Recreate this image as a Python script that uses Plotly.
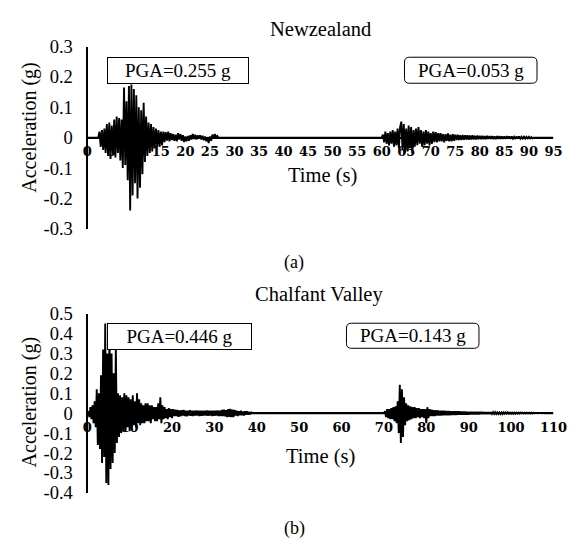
import plotly.graph_objects as go

# ---------------- data ----------------
# Record sampled every DT seconds; each inner line = one second (4 samples)
DT = 0.25

NZ_EVENT1_START = 2.0
NZ_EVENT1 = [
    0, 0, 0.02, -0.03,
    0.025, -0.04, 0.03, -0.05,
    0.045, -0.06, 0.05, -0.07,
    0.04, -0.055, 0.06, -0.065,
    0.07, -0.05, 0.065, -0.075,
    0.06, -0.1, 0.165, -0.09,
    0.12, -0.14, 0.17, -0.24,
    0.175, -0.19, 0.16, -0.15,
    0.14, -0.2, 0.1, -0.165,
    0.09, -0.12, 0.115, -0.08,
    0.07, -0.06, 0.05, -0.05,
    0.045, -0.045, 0.035, -0.035,
    0.03, -0.03, 0.025, -0.03,
    0.02, -0.025, 0.02, -0.015,
    0.018, -0.01, 0.02, -0.012,
    0.015, -0.008, 0.012, -0.01,
    0.01, -0.012, 0.015, -0.006,
    0.012, -0.01, 0.008, -0.014,
    0.004, -0.012, 0.006, -0.01,
    0.008, -0.006, 0.012, -0.004,
    0.01, -0.006, 0.008, -0.002,
    0.008, -0.006, 0.006, -0.008,
    0.004, -0.012, 0.002, -0.018,
    0.004, -0.01, 0.01, -0.002,
    0.012, 0.002, 0.006, 0,
    0,
]

NZ_EVENT2_START = 60.0
NZ_EVENT2 = [
    0, 0.01, -0.015, 0.02,
    -0.02, 0.015, -0.025, 0.02,
    -0.02, 0.025, -0.03, 0.02,
    -0.025, 0.03, -0.035, 0.035,
    0.053, -0.04, 0.045, -0.05,
    0.03, -0.045, 0.04, -0.035,
    0.035, -0.05, 0.025, -0.03,
    0.03, -0.025, 0.035, -0.02,
    0.025, -0.03, 0.02, -0.025,
    0.025, -0.02, 0.02, -0.025,
    0.015, -0.02, 0.02, -0.015,
    0.018, -0.015, 0.015, -0.012,
    0.015, -0.012, 0.012, -0.015,
    0.012, -0.01, 0.014, -0.012,
    0.01, -0.012, 0.012, -0.01,
    0.01, -0.008, 0.01, -0.008,
    0.008, -0.008, 0.009, -0.007,
    0.008, -0.006, 0.008, -0.007,
    0.007, -0.006, 0.008, -0.006,
    0.006, -0.006, 0.007, -0.005,
    0.006, -0.005, 0.006, -0.005,
    0.005, -0.005, 0.006, -0.004,
    0.005, -0.004, 0.005, -0.005,
    0.004, -0.005, 0.005, -0.004,
    0.005, -0.004, 0.004, -0.004,
    0.004, -0.004, 0.005, -0.003,
    0.004, -0.004, 0.004, -0.003,
    0.003, -0.004, 0.004, -0.003,
    0.004, -0.003, 0.003, -0.003,
    0.003, -0.003, 0.003, -0.002,
    0.003, -0.002, 0.002, -0.002,
    0,
]

CV_EVENT1_START = 0.0
CV_EVENT1 = [
    0, 0.01, -0.02, 0.03,
    -0.03, 0.04, -0.05, 0.06,
    -0.07, 0.12, -0.16, 0.1,
    -0.18, 0.19, -0.25, 0.32,
    -0.22, 0.45, -0.35, 0.3,
    -0.36, 0.446, -0.28, 0.3,
    -0.25, 0.2, -0.2, 0.33,
    -0.15, 0.1, -0.12, 0.09,
    -0.1, 0.08, -0.09, 0.1,
    -0.08, 0.09, -0.07, 0.08,
    -0.09, 0.07, -0.08, 0.09,
    -0.06, 0.06, -0.07, 0.1,
    -0.05, 0.07, -0.06, 0.05,
    -0.05, 0.04, -0.05, 0.05,
    -0.04, 0.05, -0.04, 0.04,
    -0.05, 0.04, -0.03, 0.03,
    -0.04, 0.03, -0.04, 0.05,
    -0.03, 0.08, -0.05, 0.04,
    -0.03, 0.03, -0.025, 0.02,
    -0.03, 0.025, -0.02, 0.02,
    -0.025, 0.02, -0.015, 0.018,
    -0.015, 0.016, -0.018, 0.014,
    -0.016, 0.015, -0.012, 0.016,
    -0.014, 0.012, -0.016, 0.013,
    -0.012, 0.015, -0.013, 0.012,
    -0.014, 0.012, -0.012, 0.014,
    -0.012, 0.013, -0.014, 0.012,
    -0.013, 0.012, -0.012, 0.013,
    -0.012, 0.014, -0.013, 0.012,
    -0.012, 0.012, -0.014, 0.013,
    -0.013, 0.012, -0.012, 0.014,
    -0.014, 0.013, -0.015, 0.016,
    -0.015, 0.018, -0.016, 0.015,
    -0.02, 0.02, -0.018, 0.022,
    -0.02, 0.018, -0.02, 0.016,
    -0.012, 0.012, -0.014, 0.01,
    -0.01, 0.012, -0.01, 0.008,
    -0.012, 0.01, -0.008, 0.01,
    -0.008, 0.006, -0.006, 0.004,
    0,
]

CV_EVENT2_START = 70.0
CV_EVENT2 = [
    0, 0.01, -0.02, 0.02,
    -0.025, 0.02, -0.03, 0.025,
    -0.03, 0.03, -0.04, 0.035,
    -0.05, 0.06, -0.1, 0.143,
    -0.15, 0.12, -0.12, 0.08,
    -0.06, 0.05, -0.04, 0.04,
    -0.035, 0.035, -0.03, 0.03,
    -0.025, 0.03, -0.025, 0.025,
    -0.02, 0.025, -0.025, 0.02,
    -0.02, 0.02, -0.025, 0.02,
    -0.05, 0.03, -0.025, 0.02,
    -0.015, 0.018, -0.015, 0.015,
    -0.014, 0.015, -0.012, 0.014,
    -0.012, 0.013, -0.012, 0.012,
    -0.011, 0.012, -0.01, 0.011,
    -0.01, 0.011, -0.01, 0.01,
    -0.009, 0.01, -0.009, 0.009,
    -0.009, 0.009, -0.008, 0.009,
    -0.008, 0.008, -0.008, 0.008,
    -0.007, 0.008, -0.007, 0.007,
    -0.007, 0.007, -0.006, 0.007,
    -0.006, 0.007, -0.006, 0.006,
    -0.006, 0.006, -0.006, 0.006,
    -0.005, 0.006, -0.005, 0.005,
    -0.005, 0.005, -0.005, 0.005,
    -0.005, 0.005, -0.004, 0.005,
    -0.004, 0.005, -0.004, 0.004,
    -0.004, 0.004, -0.004, 0.004,
    -0.004, 0.004, -0.003, 0.004,
    -0.003, 0.004, -0.003, 0.003,
    -0.003, 0.003, -0.003, 0.003,
    -0.003, 0.003, -0.002, 0.003,
    -0.002, 0.003, -0.002, 0.002,
    -0.002, 0.002, -0.002, 0.002,
    -0.002, 0.002, -0.002, 0.002,
    -0.002, 0.002, -0.001, 0.001,
    -0.001, 0.001, -0.001, 0.001,
    -0.001, 0.001, -0.001, 0.001,
    0,
]

NZ_XMAX = 95
CV_XMAX = 110
NZ_XTICKS = list(range(0, 100, 5))
CV_XTICKS = list(range(0, 120, 10))
NZ_YTICKS = [0.3, 0.2, 0.1, 0, -0.1, -0.2, -0.3]
NZ_YLABELS = ["0.3", "0.2", "0.1", "0", "-0.1", "-0.2", "-0.3"]
CV_YTICKS = [0.5, 0.4, 0.3, 0.2, 0.1, 0, -0.1, -0.2, -0.3, -0.4]
CV_YLABELS = ["0.5", "0.4", "0.3", "0.2", "0.1", "0", "-0.1", "-0.2", "-0.3", "-0.4"]
NZ_TITLE = "Newzealand"
CV_TITLE = "Chalfant Valley"
NZ_PGA = ["PGA=0.255 g", "PGA=0.053 g"]
CV_PGA = ["PGA=0.446 g", "PGA=0.143 g"]


def build(events, xmax):
    t, a = [0.0], [0.0]
    for start, vals in events:
        for i, v in enumerate(vals):
            t.append(start + i * DT)
            a.append(v)
    t.append(float(xmax))
    a.append(0.0)
    return t, a


nz_t, nz_a = build([(NZ_EVENT1_START, NZ_EVENT1), (NZ_EVENT2_START, NZ_EVENT2)], NZ_XMAX)
cv_t, cv_a = build([(CV_EVENT1_START, CV_EVENT1), (CV_EVENT2_START, CV_EVENT2)], CV_XMAX)

# ---------------- layout geometry (pixels) ----------------
W, H = 581, 552
SERIF = "Liberation Serif"
TICKFONT = dict(family="DejaVu Serif", size=13, color="black", weight="bold")


def px(x):
    return x / W


def py(y):
    return 1 - y / H


X_DOM = [px(85), px(567)]
NZ_YDOM = [py(227), py(38)]
CV_YDOM = [py(501), py(315)]
NZ_YR = [-0.3, 0.3]
CV_YR = [-0.4, 0.5]


def zero_pos(dom, yr):
    return dom[0] + (0 - yr[0]) / (yr[1] - yr[0]) * (dom[1] - dom[0])


fig = go.Figure()
fig.add_trace(go.Scatter(x=nz_t, y=nz_a, mode="lines", line=dict(color="black", width=1.9),
                         xaxis="x", yaxis="y", showlegend=False, hoverinfo="skip"))
fig.add_trace(go.Scatter(x=cv_t, y=cv_a, mode="lines", line=dict(color="black", width=1.9),
                         xaxis="x2", yaxis="y2", showlegend=False, hoverinfo="skip"))

xcommon = dict(domain=X_DOM, anchor="free", showline=True, linecolor="black", linewidth=1.5,
               ticks="", showgrid=False, zeroline=False, tickfont=TICKFONT, ticklabelstandoff=2,
               tickangle=0)
ycommon = dict(anchor="free", position=X_DOM[0], showline=True, linecolor="black", linewidth=1.5,
               ticks="", showgrid=False, zeroline=False,
               tickfont=dict(family=SERIF, size=18.5, color="black"), ticklabelstandoff=10)

fig.update_layout(
    width=W, height=H, margin=dict(l=0, r=0, t=0, b=0),
    paper_bgcolor="white", plot_bgcolor="white",
    xaxis=dict(range=[0, NZ_XMAX], tickvals=NZ_XTICKS, position=zero_pos(NZ_YDOM, NZ_YR), **xcommon),
    yaxis=dict(domain=NZ_YDOM, range=NZ_YR, tickvals=NZ_YTICKS, ticktext=NZ_YLABELS, **ycommon),
    xaxis2=dict(range=[0, CV_XMAX], tickvals=CV_XTICKS, position=zero_pos(CV_YDOM, CV_YR), **xcommon),
    yaxis2=dict(domain=CV_YDOM, range=CV_YR, tickvals=CV_YTICKS, ticktext=CV_YLABELS, **ycommon),
)

ann = []
TXT = dict(family=SERIF, size=19, color="black")


def text(x, y, s, size=19, angle=0):
    ann.append(dict(x=px(x), y=py(y), xref="paper", yref="paper", text=s, showarrow=False,
                    font=dict(family=SERIF, size=size, color="black"), textangle=angle,
                    xanchor="center", yanchor="middle"))


text(326, 20, NZ_TITLE, size=20.5)
text(325, 295, CV_TITLE, size=20.5)
text(328, 172, "Time (s)", size=20.5)
text(326, 463, "Time (s)", size=20.5)
text(25, 122, "Acceleration (g)", size=20, angle=-90)
text(25, 407, "Acceleration (g)", size=20, angle=-90)
text(299, 262, "(a)", size=18)
text(299, 538, "(b)", size=18)


def square_box(x0, y0, x1, y1, s):
    ann.append(dict(x=px((x0 + x1) / 2), y=py((y0 + y1) / 2), xref="paper", yref="paper",
                    text=s, showarrow=False, font=TXT, bgcolor="white",
                    bordercolor="black", borderwidth=1, borderpad=0,
                    width=x1 - x0 - 2, height=y1 - y0 - 2,
                    xanchor="center", yanchor="middle"))


shapes = []


def round_box(x0, y0, x1, y1, s, r=5):
    pth = (f"M {px(x0 + r)},{py(y0)} L {px(x1 - r)},{py(y0)} Q {px(x1)},{py(y0)} {px(x1)},{py(y0 + r)} "
           f"L {px(x1)},{py(y1 - r)} Q {px(x1)},{py(y1)} {px(x1 - r)},{py(y1)} "
           f"L {px(x0 + r)},{py(y1)} Q {px(x0)},{py(y1)} {px(x0)},{py(y1 - r)} "
           f"L {px(x0)},{py(y0 + r)} Q {px(x0)},{py(y0)} {px(x0 + r)},{py(y0)} Z")
    shapes.append(dict(type="path", path=pth, xref="paper", yref="paper",
                       line=dict(color="black", width=1), fillcolor="white", layer="above"))
    ann.append(dict(x=px((x0 + x1) / 2), y=py((y0 + y1) / 2), xref="paper", yref="paper",
                    text=s, showarrow=False, font=TXT, xanchor="center", yanchor="middle"))


square_box(108, 49, 250, 76, NZ_PGA[0])
round_box(413, 49, 550, 76, NZ_PGA[1])
square_box(108, 325, 253, 352, CV_PGA[0])
round_box(353, 325, 490, 351, CV_PGA[1])

fig.update_layout(annotations=ann, shapes=shapes)
fig.write_html("out.html")
